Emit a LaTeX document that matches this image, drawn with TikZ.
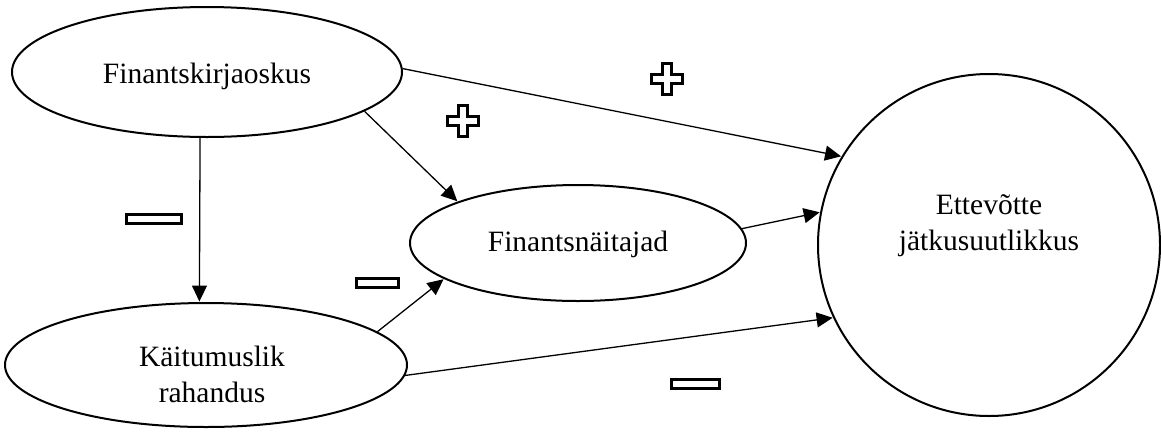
\documentclass[tikz,border=0pt]{standalone}
\usepackage{fontspec}
\setmainfont{Liberation Serif}
\usetikzlibrary{shapes.geometric,arrows.meta}
\tikzset{
  bubble/.style={draw, ellipse, line width=2pt, inner sep=0pt},
  lbl/.style={inner sep=0pt, align=center, font=\fontsize{29.5}{36}\selectfont},
  conn/.style={line width=1.3pt, -{Triangle[length=16pt,width=15pt]}, shorten >=0.5pt},
  signline/.style={draw, line width=3pt, fill=white, line join=miter},
  minusbox/.style={signline, rectangle, minimum height=9pt, inner sep=0pt},
  plussign/.pic={
    \path[signline] (-4.5,-15.5) -- (4.5,-15.5) -- (4.5,-4.5) -- (15.5,-4.5)
      -- (15.5,4.5) -- (4.5,4.5) -- (4.5,15.5) -- (-4.5,15.5) -- (-4.5,4.5)
      -- (-15.5,4.5) -- (-15.5,-4.5) -- (-4.5,-4.5) -- cycle;
  }
}
\begin{document}
\begin{tikzpicture}[x=1pt,y=-1pt]
\useasboundingbox (0,0) rectangle (1161,437);
\node[bubble, minimum width=390pt, minimum height=130pt] (e1) at (207,72) {};
\node[bubble, minimum width=402pt, minimum height=124pt] (e2) at (206,365) {};
\node[bubble, minimum width=336pt, minimum height=116pt] (e3) at (578,243) {};
\node[bubble, circle, minimum size=342pt] (c) at (989,245) {};

\node[lbl, anchor=base] (e1t) at (207,83) {Finantskirjaoskus};
\node[lbl] (e2t) at (212,374) {Käitumuslik\\rahandus};
\node[lbl, anchor=base] (e3t) at (578,251) {Finantsnäitajad};
\node[lbl] (ct) at (989,226) {Ettevõtte\\jätkusuutlikkus};

\draw[conn] (e1.1) -- (c.149);
\draw[conn] (e1.-14) -- (e3.161);
\draw[conn] (e1.-96) -- (e2.96);
\draw[conn] (e3.5) -- (c.169);
\draw[conn] (e2.11) -- (e3.195);
\draw[conn] (e2.-3) -- (c.205);

\pic at (667,79) {plussign};
\pic at (463,121) {plussign};
\node[minusbox, minimum width=55pt] (m1) at (154,219) {};
\node[minusbox, minimum width=42pt] (m2) at (377.5,283) {};
\node[minusbox, minimum width=48pt] (m3) at (695.5,383.5) {};
\end{tikzpicture}
\end{document}
